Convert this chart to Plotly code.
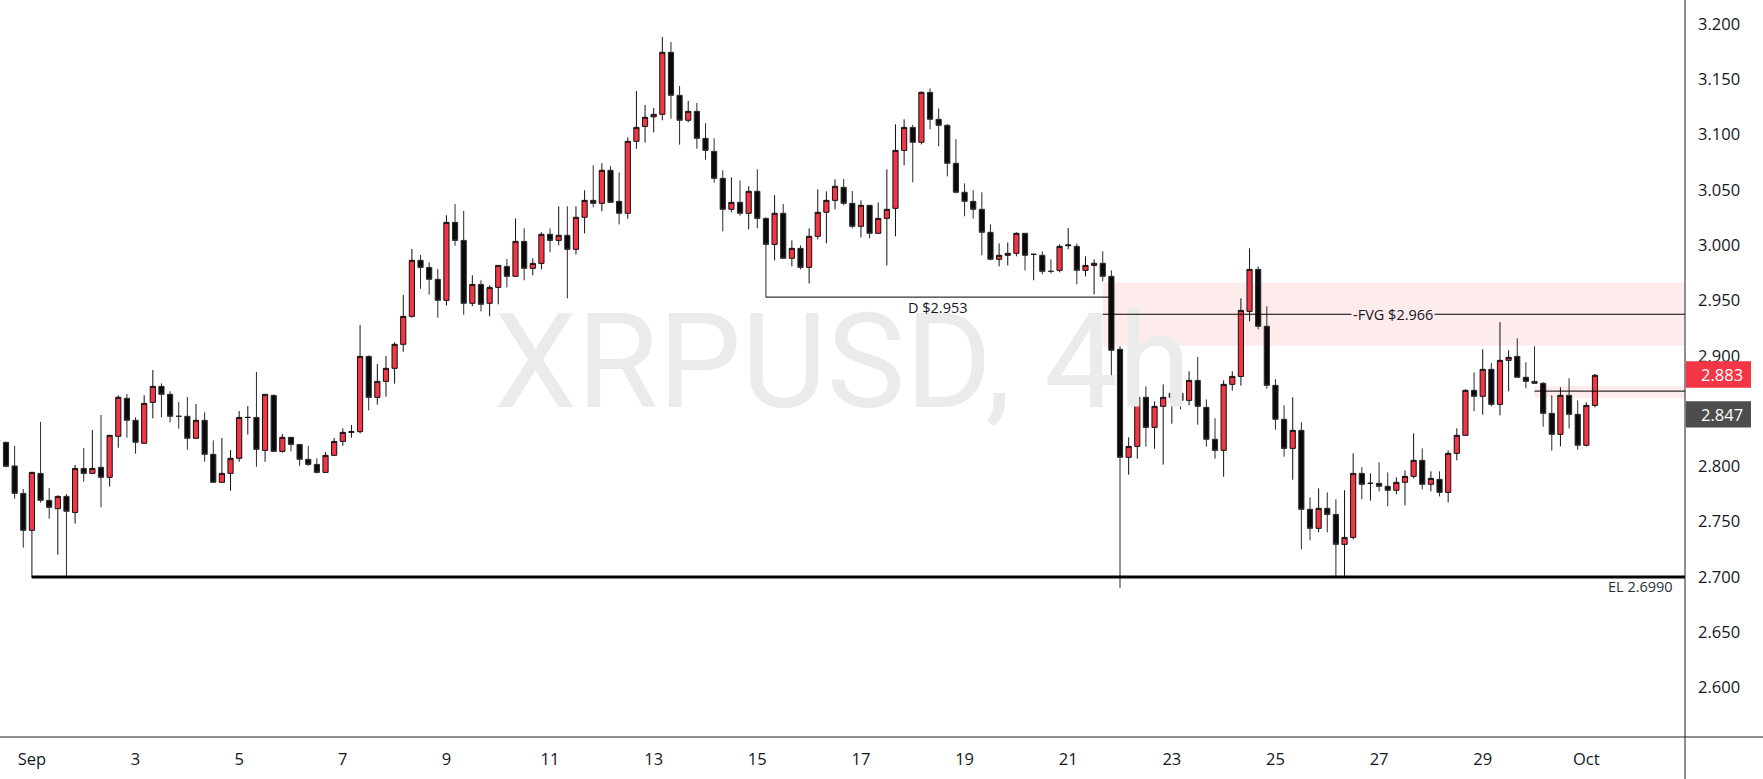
import pandas as pd
import plotly.graph_objects as go

# ---------------- data ----------------
symbol = "XRPUSD, 4h"
first_bar = "2025-08-31 08:00"   # 4h bars

opens = [
    2.8235, 2.8217, 2.8003, 2.7755, 2.7421, 2.7936, 2.7692, 2.7617, 2.7728, 2.7583,
    2.7981, 2.7936, 2.7991, 2.7900, 2.8271, 2.8615, 2.8416, 2.8208, 2.8578, 2.8723,
    2.8651, 2.8452, 2.8452, 2.8253, 2.8416, 2.8108, 2.7855, 2.7936, 2.8072, 2.8442,
    2.8442, 2.8144, 2.8641, 2.8135, 2.8262, 2.8198, 2.8063, 2.8017, 2.7945, 2.8099,
    2.8225, 2.8307, 2.8313, 2.8994, 2.8623, 2.8768, 2.8886, 2.9103, 2.9356, 2.9863,
    2.9799, 2.9691, 2.9501, 3.0206, 3.0043, 2.9474, 2.9645, 2.9474, 2.9618, 2.9808,
    2.9718, 3.0034, 2.9790, 2.9835, 3.0098, 3.0043, 3.0089, 2.9962, 3.0252, 3.0405,
    3.0378, 3.0677, 3.0396, 3.0288, 3.0939, 3.1074, 3.1160, 3.1183, 3.1744, 3.1355,
    3.1129, 3.1210, 3.0966, 3.0848, 3.0604, 3.0324, 3.0387, 3.0288, 3.0487, 3.0242,
    3.0007, 3.0288, 2.9881, 2.9971, 2.9799, 3.0080, 3.0297, 3.0405, 3.0523, 3.0378,
    3.0170, 3.0360, 3.0107, 3.0242, 3.0333, 3.0857, 3.1065, 3.0930, 3.1382, 3.1138,
    3.1084, 3.0740, 3.0478, 3.0396, 3.0324, 3.0116, 2.9872, 2.9908, 2.9926, 3.0107,
    2.9917, 2.9908, 2.9763, 2.9772, 2.9995, 2.9989, 2.9772, 2.9817, 2.9836, 2.9718,
    2.9058, 2.8081, 2.8180, 2.8624, 2.8352, 2.8542, 2.8624, 2.8660, 2.8596, 2.8777,
    2.8533, 2.8244, 2.8144, 2.8741, 2.8813, 2.9401, 2.9781, 2.9266, 2.8732, 2.8425,
    2.8162, 2.8325, 2.7611, 2.7439, 2.7620, 2.7565, 2.7294, 2.7357, 2.7936, 2.7846,
    2.7846, 2.7819, 2.7783, 2.7855, 2.7909, 2.8054, 2.7837, 2.7882, 2.7764, 2.8117,
    2.8280, 2.8687, 2.8633, 2.8877, 2.8560, 2.8958, 2.8994, 2.8805, 2.8768, 2.8750,
    2.8479, 2.8289, 2.8642, 2.8470, 2.8190, 2.8551,
]
highs = [
    2.8260, 2.8220, 2.8183, 2.7795, 2.7950, 2.8401, 2.7804, 2.7737, 2.7749, 2.8012,
    2.8165, 2.8328, 2.8464, 2.8280, 2.8642, 2.8654, 2.8443, 2.8642, 2.8871, 2.8750,
    2.8678, 2.8581, 2.8627, 2.8563, 2.8488, 2.8235, 2.8256, 2.8147, 2.8500, 2.8545,
    2.8853, 2.8651, 2.8651, 2.8292, 2.8262, 2.8198, 2.8183, 2.8072, 2.8129, 2.8256,
    2.8343, 2.8373, 2.9278, 2.9003, 2.8925, 2.8997, 2.9121, 2.9549, 2.9965, 2.9911,
    2.9844, 2.9784, 3.0270, 3.0372, 3.0309, 2.9727, 2.9682, 2.9636, 2.9817, 2.9875,
    3.0242, 3.0152, 2.9881, 3.0116, 3.0152, 3.0351, 3.0351, 3.0351, 3.0496, 3.0722,
    3.0740, 3.0713, 3.0658, 3.0975, 3.1394, 3.1267, 3.1240, 3.1882, 3.1837, 3.1439,
    3.1304, 3.1286, 3.1102, 3.0966, 3.0677, 3.0613, 3.0586, 3.0532, 3.0686, 3.0251,
    3.0453, 3.0372, 3.0043, 2.9998, 3.0152, 3.0505, 3.0487, 3.0595, 3.0598, 3.0490,
    3.0405, 3.0360, 3.0387, 3.0686, 3.1093, 3.1138, 3.1087, 3.1391, 3.1418, 3.1237,
    3.1093, 3.0957, 3.0559, 3.0496, 3.0478, 3.0188, 3.0016, 3.0025, 3.0116, 3.0107,
    2.9917, 2.9944, 2.9872, 3.0007, 3.0155, 3.0016, 2.9899, 2.9872, 2.9944, 2.9772,
    2.9085, 2.8262, 2.8786, 2.8723, 2.8587, 2.8741, 2.8868, 2.8750, 2.8859, 2.8988,
    2.8605, 2.8434, 2.8777, 2.8859, 2.9519, 2.9971, 2.9808, 2.9447, 2.8787, 2.8551,
    2.8624, 2.8398, 2.7719, 2.7801, 2.7764, 2.7701, 2.7783, 2.8117, 2.7991, 2.7936,
    2.8036, 2.7945, 2.7900, 2.7963, 2.8298, 2.8162, 2.7954, 2.7954, 2.8144, 2.8343,
    2.8696, 2.8850, 2.9058, 2.8934, 2.9305, 2.9049, 2.9157, 2.8940, 2.9085, 2.8762,
    2.8642, 2.8714, 2.8796, 2.8597, 2.8578, 2.8835,
]
lows = [
    2.8200, 2.7991, 2.7707, 2.7264, 2.6990, 2.7671, 2.7526, 2.7201, 2.6990, 2.7481,
    2.7861, 2.7936, 2.7629, 2.7816, 2.8168, 2.8259, 2.8114, 2.8208, 2.8434, 2.8443,
    2.8398, 2.8340, 2.8150, 2.8253, 2.8042, 2.7855, 2.7855, 2.7779, 2.8041, 2.8286,
    2.7996, 2.8041, 2.8135, 2.8123, 2.8135, 2.8005, 2.8005, 2.7936, 2.7945, 2.8099,
    2.8186, 2.8259, 2.8298, 2.8506, 2.8557, 2.8630, 2.8747, 2.9036, 2.9344, 2.9606,
    2.9552, 2.9344, 2.9453, 2.9995, 2.9371, 2.9447, 2.9401, 2.9356, 2.9465, 2.9618,
    2.9718, 2.9682, 2.9727, 2.9781, 2.9935, 2.9998, 2.9519, 2.9917, 3.0107, 3.0342,
    3.0306, 3.0381, 3.0188, 3.0239, 3.0872, 3.0927, 3.1020, 3.1129, 3.1144, 3.0909,
    3.1111, 3.0872, 3.0773, 3.0565, 3.0125, 3.0297, 3.0267, 3.0143, 3.0152, 2.9528,
    2.9862, 2.9881, 2.9808, 2.9781, 2.9654, 3.0052, 3.0016, 3.0324, 3.0360, 3.0152,
    3.0071, 3.0062, 3.0107, 2.9817, 3.0080, 3.0722, 3.0568, 3.0911, 3.1047, 3.0894,
    3.0622, 3.0469, 3.0261, 3.0242, 2.9908, 2.9863, 2.9808, 2.9817, 2.9899, 2.9772,
    2.9682, 2.9736, 2.9745, 2.9754, 2.9962, 2.9646, 2.9718, 2.9555, 2.9673, 2.8792,
    2.6902, 2.7924, 2.8069, 2.8177, 2.8159, 2.8015, 2.8385, 2.8515, 2.8551, 2.8376,
    2.8177, 2.8069, 2.7906, 2.8684, 2.8729, 2.9311, 2.9239, 2.8702, 2.8331, 2.8087,
    2.7879, 2.7249, 2.7330, 2.7403, 2.7403, 2.6990, 2.6990, 2.7339, 2.7701, 2.7689,
    2.7774, 2.7638, 2.7746, 2.7647, 2.7891, 2.7792, 2.7774, 2.7728, 2.7674, 2.8054,
    2.8280, 2.8497, 2.8467, 2.8542, 2.8461, 2.8678, 2.8805, 2.8705, 2.8750, 2.8358,
    2.8141, 2.8180, 2.8343, 2.8150, 2.8180, 2.8533,
]
closes = [
    2.8230, 2.8000, 2.7755, 2.7421, 2.7945, 2.7692, 2.7629, 2.7728, 2.7593, 2.7981,
    2.7936, 2.7981, 2.7900, 2.8280, 2.8624, 2.8416, 2.8217, 2.8569, 2.8723, 2.8651,
    2.8452, 2.8452, 2.8253, 2.8416, 2.8108, 2.7855, 2.7936, 2.8072, 2.8442, 2.8442,
    2.8153, 2.8651, 2.8135, 2.8262, 2.8198, 2.8063, 2.8017, 2.7945, 2.8099, 2.8225,
    2.8307, 2.8313, 2.8994, 2.8623, 2.8768, 2.8886, 2.9103, 2.9356, 2.9863, 2.9799,
    2.9691, 2.9501, 3.0206, 3.0043, 2.9474, 2.9645, 2.9465, 2.9618, 2.9817, 2.9718,
    3.0034, 2.9790, 2.9835, 3.0098, 3.0043, 3.0089, 2.9962, 3.0252, 3.0405, 3.0378,
    3.0677, 3.0387, 3.0288, 3.0939, 3.1065, 3.1156, 3.1183, 3.1744, 3.1355, 3.1129,
    3.1210, 3.0966, 3.0857, 3.0604, 3.0324, 3.0387, 3.0288, 3.0487, 3.0242, 3.0007,
    3.0288, 2.9881, 2.9971, 2.9799, 3.0080, 3.0297, 3.0405, 3.0532, 3.0378, 3.0170,
    3.0360, 3.0107, 3.0242, 3.0324, 3.0857, 3.1065, 3.0930, 3.1382, 3.1138, 3.1084,
    3.0740, 3.0478, 3.0396, 3.0324, 3.0116, 2.9872, 2.9908, 2.9926, 3.0107, 2.9908,
    2.9917, 2.9763, 2.9763, 2.9989, 3.0001, 2.9772, 2.9817, 2.9836, 2.9718, 2.9049,
    2.8081, 2.8180, 2.8624, 2.8352, 2.8542, 2.8624, 2.8660, 2.8596, 2.8777, 2.8542,
    2.8244, 2.8144, 2.8741, 2.8813, 2.9410, 2.9781, 2.9266, 2.8732, 2.8425, 2.8162,
    2.8325, 2.7611, 2.7439, 2.7620, 2.7565, 2.7294, 2.7357, 2.7936, 2.7837, 2.7846,
    2.7819, 2.7783, 2.7855, 2.7909, 2.8054, 2.7837, 2.7891, 2.7764, 2.8117, 2.8280,
    2.8687, 2.8633, 2.8877, 2.8560, 2.8958, 2.8985, 2.8805, 2.8768, 2.8750, 2.8479,
    2.8289, 2.8642, 2.8470, 2.8190, 2.8551, 2.8823,
]

tick_dates = ["2025-09-01", "2025-09-03", "2025-09-05", "2025-09-07", "2025-09-09",
              "2025-09-11", "2025-09-13", "2025-09-15", "2025-09-17", "2025-09-19",
              "2025-09-21", "2025-09-23", "2025-09-25", "2025-09-27", "2025-09-29",
              "2025-10-01"]
tick_text = ["Sep", "3", "5", "7", "9", "11", "13", "15", "17", "19", "21", "23",
             "25", "27", "29", "Oct"]
price_ticks = [2.60, 2.65, 2.70, 2.75, 2.80, 2.90, 2.95, 3.00, 3.05, 3.10, 3.15, 3.20]

# drawn levels
d_level, d_start, d_end = 2.953, "2025-09-15 04:00", "2025-09-21 20:00"
fvg_top, fvg_bottom, fvg_mid, fvg_start = 2.966, 2.909, 2.9375, "2025-09-21 16:00"
el_level, el_start = 2.700, "2025-09-01 00:00"
mini_top, mini_bottom, mini_line, mini_start = 2.8726, 2.862, 2.868, "2025-09-30 00:00"
last_price, other_price = 2.883, 2.847

# ---------------- layout constants ----------------
W, H = 1763, 779
ML, MR, MT, MB = 0, 78, 0, 42
PW, PH = W - ML - MR, H - MT - MB
Y0, Y1 = 2.5552, 3.2217
X0, X1 = "2025-08-31 09:13", "2025-10-02 21:42"
FAR_RIGHT = "2025-10-05 00:00"
FONT = "Open Sans"
TXT = "#131722"
RED = "#F23645"
PINK = "rgba(242,54,69,0.10)"


def py(p):
    return (p - Y0) / (Y1 - Y0)


times = pd.date_range(first_bar, periods=len(opens), freq="4h")

fig = go.Figure()

# watermark (drawn first so candles are on top)
fig.add_trace(go.Scatter(
    x=["2025-09-16 15:25"], y=[2.8835], mode="text", text=[symbol],
    textposition="middle center",
    textfont=dict(family="Roboto", size=132, color="#EBEBEB"),
    hoverinfo="skip", showlegend=False))

fig.add_trace(go.Candlestick(
    x=times, open=opens, high=highs, low=lows, close=closes,
    increasing=dict(fillcolor=RED, line=dict(color="#111111", width=1)),
    decreasing=dict(fillcolor="#0A0A0A", line=dict(color="#2B2B2B", width=1)),
    whiskerwidth=0, hoverinfo="skip", showlegend=False))

shapes = [
    # FVG zone
    dict(type="rect", xref="x", yref="y", x0=fvg_start, x1=FAR_RIGHT,
         y0=fvg_bottom, y1=fvg_top, fillcolor=PINK, line=dict(width=0), layer="below"),
    dict(type="rect", xref="x", yref="y", x0=mini_start, x1=FAR_RIGHT,
         y0=mini_bottom, y1=mini_top, fillcolor=PINK, line=dict(width=0), layer="below"),
    # lines
    dict(type="line", xref="x", yref="y", x0=d_start, x1=d_end, y0=d_level, y1=d_level,
         line=dict(color="#000000", width=1)),
    dict(type="line", xref="x", yref="y", x0=fvg_start, x1=FAR_RIGHT, y0=fvg_mid, y1=fvg_mid,
         line=dict(color="#000000", width=1)),
    dict(type="line", xref="x", yref="y", x0=mini_start, x1=FAR_RIGHT, y0=mini_line, y1=mini_line,
         line=dict(color="#000000", width=1)),
    dict(type="line", xref="x", yref="y", x0=el_start, x1=FAR_RIGHT, y0=el_level, y1=el_level,
         line=dict(color="#000000", width=3)),
    # axis frame lines
    dict(type="line", xref="paper", yref="paper", x0=0, x1=W / PW, y0=0, y1=0,
         line=dict(color="#1E1E1E", width=1)),
    dict(type="line", xref="paper", yref="paper", x0=1, x1=1, y0=-MB / PH, y1=1,
         line=dict(color="#1E1E1E", width=1)),
    # price labels on axis
    dict(type="rect", xref="paper", yref="paper", x0=1.0005, x1=1751 / PW,
         y0=py(last_price) - 13.2 / PH, y1=py(last_price) + 13.2 / PH,
         fillcolor=RED, line=dict(width=0)),
    dict(type="rect", xref="paper", yref="paper", x0=1.0005, x1=1751 / PW,
         y0=py(other_price) - 13.2 / PH, y1=py(other_price) + 13.2 / PH,
         fillcolor="#4D4D4D", line=dict(width=0)),
]

annotations = [
    dict(x="2025-09-18 11:40", y=2.9432, xref="x", yref="y", text="D $2.953",
         showarrow=False, font=dict(family=FONT, size=14.5, color=TXT),
         xanchor="center", yanchor="middle"),
    dict(x="2025-09-27 06:40", y=fvg_mid, xref="x", yref="y", text="-FVG $2.966",
         showarrow=False, font=dict(family=FONT, size=14.5, color=TXT),
         bgcolor="rgb(254,235,236)", borderpad=1, xanchor="center", yanchor="middle"),
    dict(x=1675 / PW, y=2.6917, xref="paper", yref="y", text="EL 2.6990",
         showarrow=False, font=dict(family=FONT, size=14.5, color="#2A2E39"),
         xanchor="right", yanchor="middle"),
    dict(x=1699 / PW, y=py(last_price), xref="paper", yref="paper", text=f"{last_price:.3f}",
         showarrow=False, font=dict(family=FONT, size=16.5, color="#FFFFFF"),
         xanchor="left", yanchor="middle"),
    dict(x=1699 / PW, y=py(other_price), xref="paper", yref="paper", text=f"{other_price:.3f}",
         showarrow=False, font=dict(family=FONT, size=16.5, color="#FFFFFF"),
         xanchor="left", yanchor="middle"),
]

fig.update_layout(
    width=W, height=H, autosize=False,
    margin=dict(l=ML, r=MR, t=MT, b=MB, pad=0),
    paper_bgcolor="#FFFFFF", plot_bgcolor="#FFFFFF",
    boxgap=0.4, boxgroupgap=0,
    shapes=shapes, annotations=annotations,
    showlegend=False, hovermode=False,
    font=dict(family=FONT, color=TXT),
)
fig.update_xaxes(
    type="date", range=[X0, X1], rangeslider_visible=False,
    showgrid=False, zeroline=False, showline=False, ticks="",
    tickvals=tick_dates, ticktext=tick_text,
    tickfont=dict(family=FONT, size=16.5, color=TXT),
    ticklabelstandoff=10, automargin=False,
)
fig.update_yaxes(
    side="right", range=[Y0, Y1],
    showgrid=False, zeroline=False, showline=False, ticks="",
    tickvals=price_ticks, ticktext=[f"{v:.3f}" for v in price_ticks],
    tickfont=dict(family=FONT, size=16.5, color=TXT),
    ticklabelstandoff=12, automargin=False,
)

fig.write_html(
    "out.html",
    config={"displayModeBar": False},
    post_script="document.body.style.margin='0';document.body.style.overflow='hidden';",
)
